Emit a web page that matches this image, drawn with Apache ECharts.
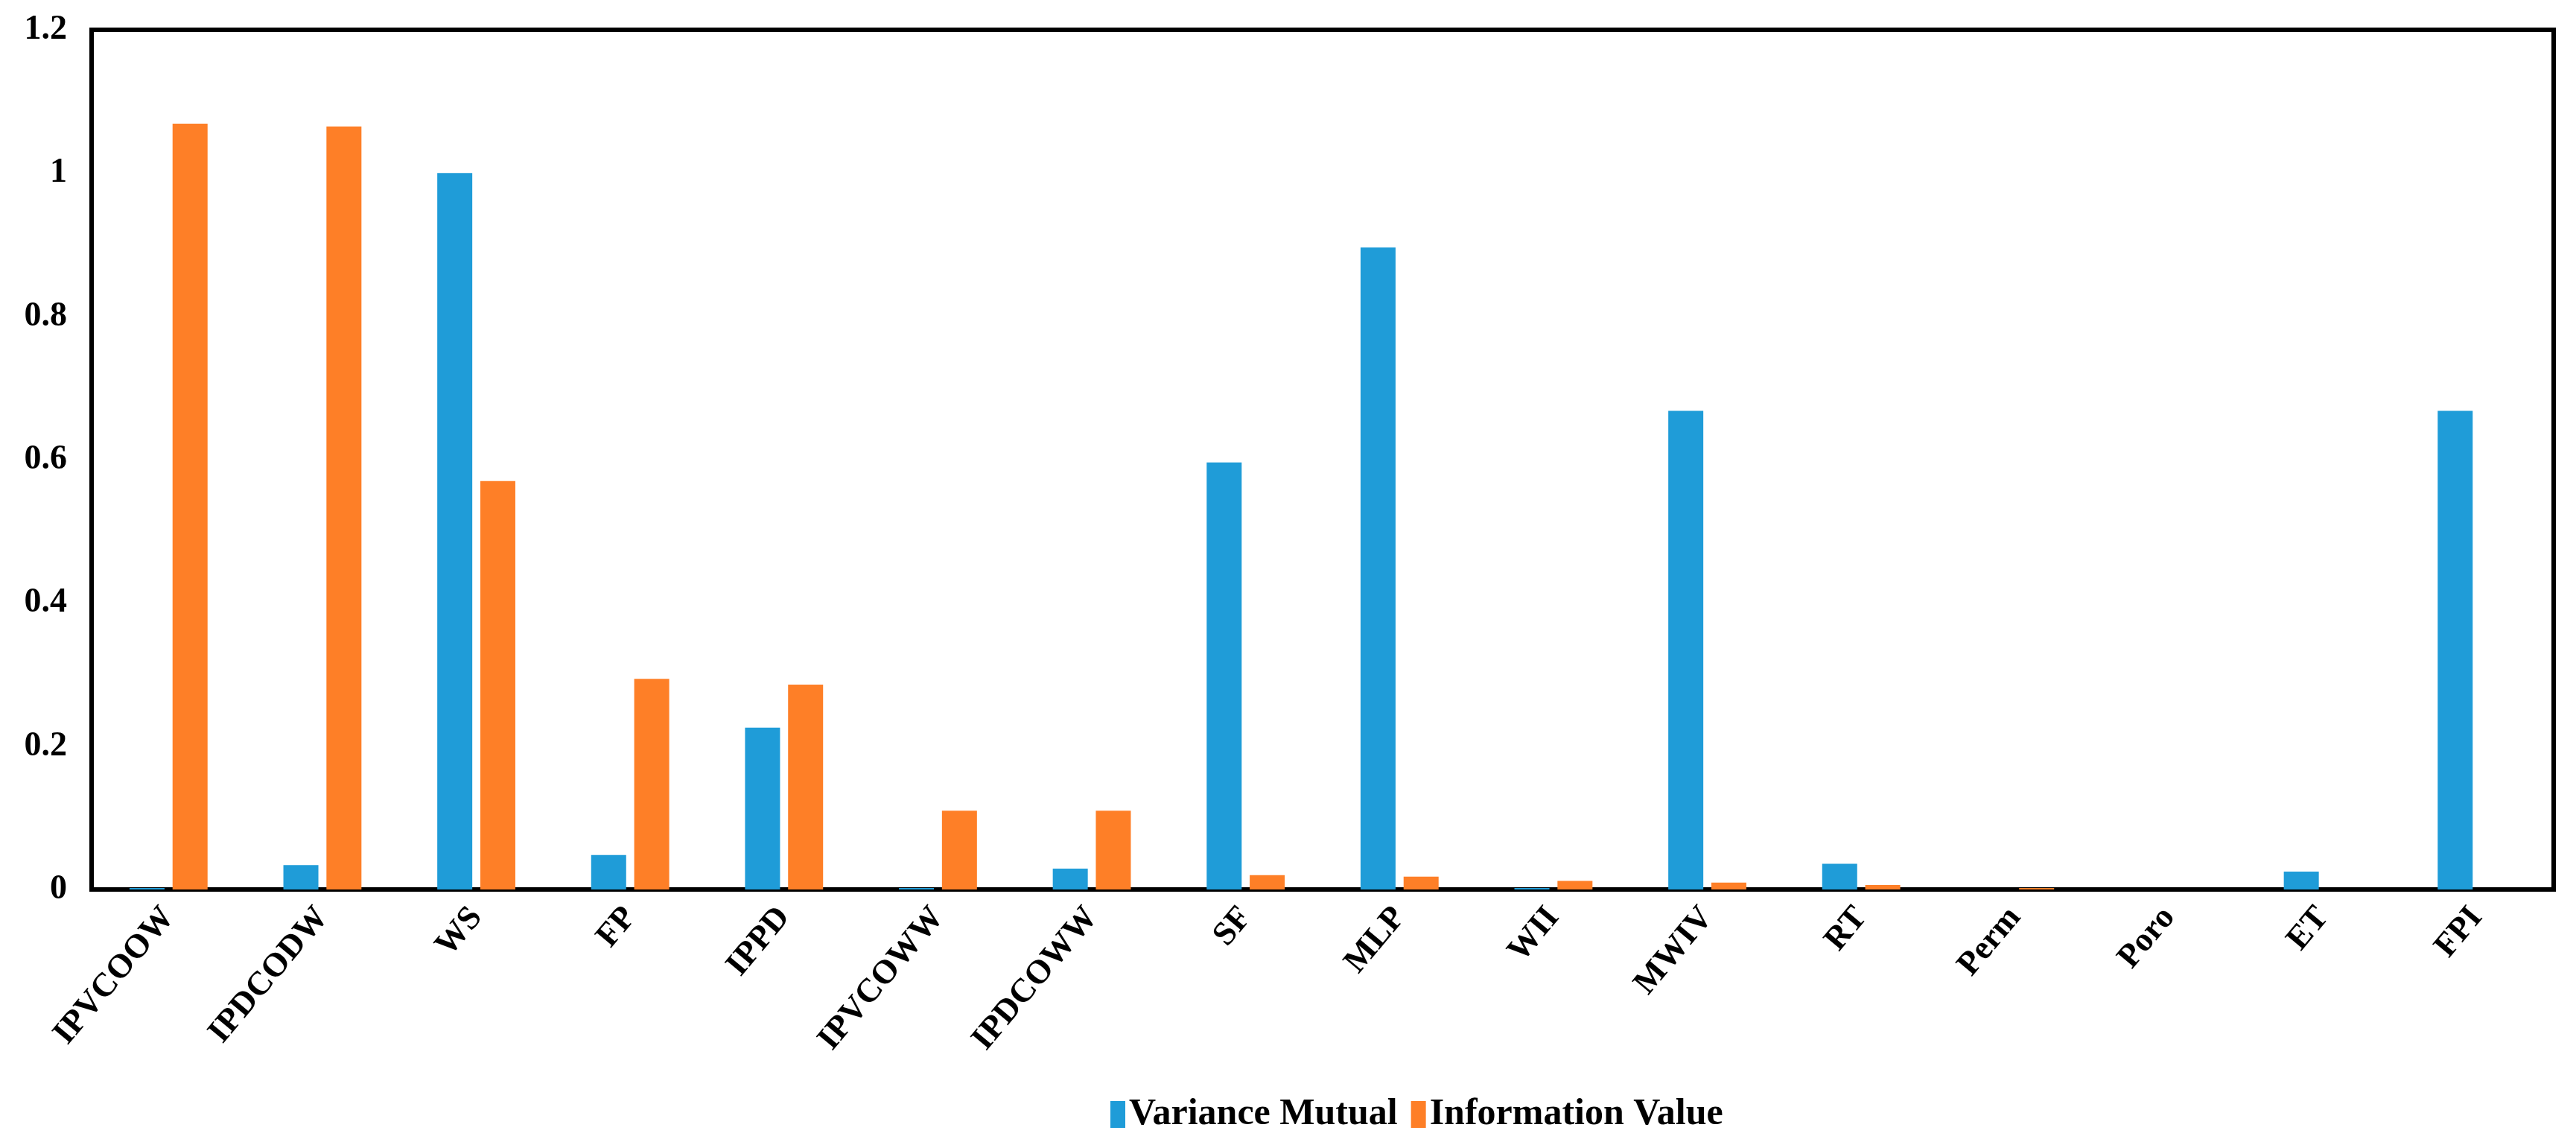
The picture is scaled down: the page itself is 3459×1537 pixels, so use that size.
<!DOCTYPE html>
<html>
<head>
<meta charset="utf-8">
<script src="https://cdn.jsdelivr.net/npm/echarts@6/dist/echarts.min.js"></script>
<style>
html,body{margin:0;padding:0;background:#fff;}
#chart{width:3459px;height:1537px;}
</style>
</head>
<body>
<div id="chart"></div>
<script>
var categories = ['IPVCOOW','IPDCODW','WS','FP','IPPD','IPVCOWW','IPDCOWW','SF','MLP','WII','MWIV','RT','Perm','Poro','ET','FPI'];
var varianceMutual = [0.002, 0.034, 1.0, 0.048, 0.226, 0.002, 0.029, 0.596, 0.896, 0.002, 0.668, 0.036, 0, 0, 0.025, 0.668];
var informationValue = [1.069, 1.065, 0.570, 0.294, 0.286, 0.110, 0.110, 0.020, 0.018, 0.012, 0.0095, 0.0063, 0.002, 0, 0, 0];
var seriesNames = ['Variance Mutual', 'Information Value'];

var FONT = "'Liberation Serif','Times New Roman',serif";
var chart = echarts.init(document.getElementById('chart'));
chart.setOption({
  animation: false,
  backgroundColor: '#ffffff',
  color: ['#1f9cd8', '#fe7f27'],
  grid: {
    left: 123, right: 30, top: 40, bottom: 343,
    show: true, borderColor: '#000', borderWidth: 6, backgroundColor: 'transparent'
  },
  legend: {
    left: 1486, top: 1466,
    itemWidth: 20, itemHeight: 36, itemGap: 18,
    icon: 'rect',
    textStyle: { fontFamily: FONT, fontWeight: 'bold', fontSize: 50, color: '#000' },
    data: seriesNames
  },
  xAxis: {
    type: 'category',
    data: categories,
    axisLine: { show: false },
    axisTick: { show: false },
    axisLabel: {
      rotate: 50, margin: 30, interval: 0,
      fontFamily: FONT, fontWeight: 'bold', fontSize: 45, color: '#000'
    }
  },
  yAxis: {
    type: 'value',
    min: 0, max: 1.2, interval: 0.2,
    splitLine: { show: false },
    axisLine: { show: false },
    axisTick: { show: false },
    axisLabel: { margin: 33, fontFamily: FONT, fontWeight: 'bold', fontSize: 46, color: '#000' }
  },
  series: [
    { name: seriesNames[0], type: 'bar', data: varianceMutual, barWidth: 47, barGap: '23%' },
    { name: seriesNames[1], type: 'bar', data: informationValue, barWidth: 47, barGap: '23%' }
  ]
});
</script>
</body>
</html>
